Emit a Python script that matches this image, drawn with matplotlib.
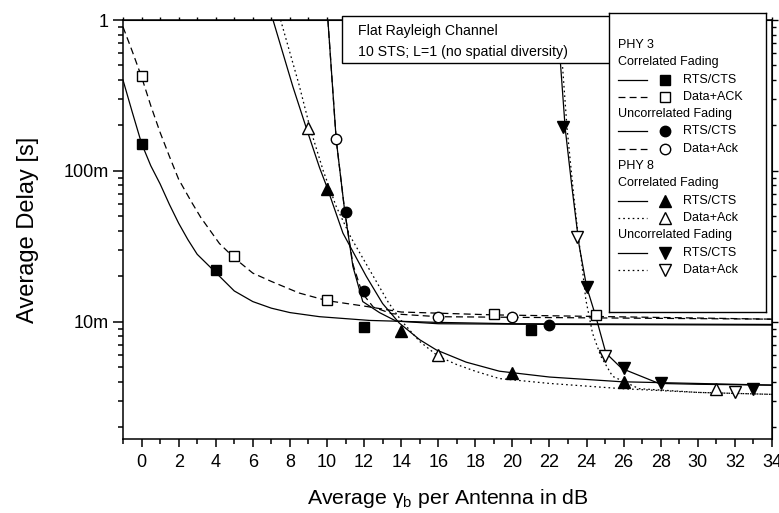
import matplotlib
matplotlib.use("Agg")
import matplotlib.pyplot as plt
from matplotlib.lines import Line2D
from matplotlib.patches import Rectangle
from matplotlib.ticker import FixedLocator, LogLocator, MultipleLocator, NullFormatter

plt.rcParams["font.family"] = ["Liberation Sans", "DejaVu Sans"]
plt.rcParams["lines.scale_dashes"] = False

# ---- simulated points -------------------------------------------------------
# PHY 3
p3_cor_rts_x = [0, 4, 12, 21]
p3_cor_rts_y = [0.150, 0.0219, 0.0092, 0.0088]
p3_cor_ack_x = [0, 5, 10, 19, 24.5]
p3_cor_ack_y = [0.426, 0.0274, 0.0140, 0.0113, 0.0110]
p3_unc_rts_x = [11, 12, 22]
p3_unc_rts_y = [0.0532, 0.0161, 0.0095]
p3_unc_ack_x = [10.5, 16, 20]
p3_unc_ack_y = [0.162, 0.0108, 0.0108]
# PHY 8
p8_cor_rts_x = [10, 14, 20, 26]
p8_cor_rts_y = [0.0757, 0.0087, 0.0046, 0.0040]
p8_cor_ack_x = [9, 16, 31]
p8_cor_ack_y = [0.192, 0.0060, 0.0036]
p8_unc_rts_x = [22.75, 24, 26, 28, 33]
p8_unc_rts_y = [0.194, 0.0171, 0.0049, 0.0039, 0.0036]
p8_unc_ack_x = [23.5, 25, 32]
p8_unc_ack_y = [0.0364, 0.0059, 0.0034]

# ---- analytical curves ------------------------------------------------------
fit_p3_cor_rts_x = [-1, -0.5, 0, 0.5, 1, 1.5, 2, 2.5, 3, 4, 5, 6, 7, 8, 9.6, 12.3, 16, 20, 34]
fit_p3_cor_rts_y = [0.40, 0.245, 0.152, 0.108, 0.082, 0.060, 0.045, 0.035, 0.028, 0.0212,
                    0.0160, 0.0136, 0.0123, 0.0115, 0.0108, 0.0102, 0.0099, 0.0097, 0.0096]
fit_p3_cor_ack_x = [-1, -0.5, 0, 0.5, 1, 1.5, 2, 2.7, 3.2, 4.2, 5, 6, 7, 8.5, 10, 12, 14, 19, 34]
fit_p3_cor_ack_y = [0.90, 0.62, 0.42, 0.27, 0.18, 0.125, 0.088, 0.062, 0.049, 0.033, 0.0265,
                    0.021, 0.0185, 0.0155, 0.0138, 0.0127, 0.0116, 0.0111, 0.0104]
fit_p3_unc_rts_x = [10.05, 10.5, 10.95, 11.4, 11.93, 12.83, 13.73, 16, 22, 34]
fit_p3_unc_rts_y = [1.0, 0.16, 0.055, 0.0232, 0.0136, 0.0115, 0.0101, 0.0097, 0.0096, 0.0095]
fit_p3_unc_ack_x = [10.05, 10.5, 10.95, 11.4, 11.9, 12.5, 13.5, 16, 20, 34]
fit_p3_unc_ack_y = [1.0, 0.16, 0.055, 0.024, 0.0155, 0.0125, 0.0113, 0.0108, 0.0107, 0.0104]
fit_p8_cor_rts_x = [7.09, 8.16, 8.9, 9.6, 10, 10.86, 12.12, 13.0, 13.9, 15, 15.9, 17.5, 19.3, 22, 25.9, 34]
fit_p8_cor_rts_y = [1.0, 0.362, 0.19, 0.105, 0.078, 0.0387, 0.020, 0.0132, 0.0098, 0.0076,
                    0.0065, 0.0054, 0.0047, 0.0043, 0.0040, 0.0038]
fit_p8_cor_ack_x = [7.5, 8.5, 9.1, 9.8, 10.5, 11.3, 12.5, 13.3, 14, 15, 16, 17, 18, 19.3, 22, 25.9, 30, 34]
fit_p8_cor_ack_y = [1.0, 0.37, 0.19, 0.10, 0.058, 0.036, 0.020, 0.0135, 0.0102, 0.0074, 0.0059,
                    0.0052, 0.0047, 0.0042, 0.0039, 0.0036, 0.0034, 0.0033]
fit_p8_unc_rts_x = [22.4, 22.6, 22.85, 23.2, 23.6, 24.0, 24.5, 25.04, 25.9, 27.9, 30, 34]
fit_p8_unc_rts_y = [1.0, 0.50, 0.19, 0.08, 0.032, 0.0171, 0.0108, 0.0062, 0.0049, 0.0039, 0.00385, 0.0038]
fit_p8_unc_ack_x = [22.5, 22.7, 22.95, 23.3, 23.55, 23.7, 23.96, 24.32, 24.77, 25.4, 26.83, 30, 34]
fit_p8_unc_ack_y = [1.0, 0.50, 0.19, 0.07, 0.037, 0.027, 0.014, 0.0084, 0.0059, 0.00435,
                    0.0036, 0.0034, 0.0033]

y_ticks = [0.01, 0.1, 1]
y_tick_labels = ["10m", "100m", "1"]

LW = 0.9
DASHED = (0, (5, 3))
DOTTED = (0, (1.2, 2.2))

W, H = 779, 513
fig = plt.figure(figsize=(W / 100, H / 100), dpi=100)
ax = fig.add_axes([123 / W, 74 / H, 649 / W, 419 / H])

# curves
curves = [
    (fit_p3_cor_rts_x, fit_p3_cor_rts_y, "-"),
    (fit_p3_cor_ack_x, fit_p3_cor_ack_y, DASHED),
    (fit_p3_unc_rts_x, fit_p3_unc_rts_y, "-"),
    (fit_p3_unc_ack_x, fit_p3_unc_ack_y, DASHED),
    (fit_p8_cor_rts_x, fit_p8_cor_rts_y, "-"),
    (fit_p8_cor_ack_x, fit_p8_cor_ack_y, DOTTED),
    (fit_p8_unc_rts_x, fit_p8_unc_rts_y, "-"),
    (fit_p8_unc_ack_x, fit_p8_unc_ack_y, DOTTED),
]
for cx, cy, ls in curves:
    ax.plot(cx, cy, color="black", lw=LW, linestyle=ls, zorder=2)

# markers
points = [
    (p3_cor_rts_x, p3_cor_rts_y, "s", "black", 7),
    (p3_cor_ack_x, p3_cor_ack_y, "s", "white", 7),
    (p3_unc_rts_x, p3_unc_rts_y, "o", "black", 7.5),
    (p3_unc_ack_x, p3_unc_ack_y, "o", "white", 7.5),
    (p8_cor_rts_x, p8_cor_rts_y, "^", "black", 8),
    (p8_cor_ack_x, p8_cor_ack_y, "^", "white", 8),
    (p8_unc_rts_x, p8_unc_rts_y, "v", "black", 8),
    (p8_unc_ack_x, p8_unc_ack_y, "v", "white", 8),
]
for px, py, mk, fc, ms in points:
    ax.plot(px, py, linestyle="none", marker=mk, ms=ms, mfc=fc, mec="black",
            mew=1.0, zorder=3)

# axes
ax.set_xlim(-1, 34)
ax.set_yscale("log")
ax.set_ylim(1.67e-3, 1)
ax.xaxis.set_major_locator(MultipleLocator(2))
ax.xaxis.set_minor_locator(MultipleLocator(1))
ax.yaxis.set_major_locator(FixedLocator(y_ticks))
ax.set_yticklabels(y_tick_labels)
ax.yaxis.set_minor_locator(LogLocator(base=10, subs=range(2, 10)))
ax.yaxis.set_minor_formatter(NullFormatter())
for sp in ax.spines.values():
    sp.set_linewidth(1.1)
ax.tick_params(axis="x", which="major", direction="out", length=5.5, width=1.1,
               labelsize=13, pad=5)
ax.tick_params(axis="x", which="minor", direction="out", length=3.3, width=1.1)
ax.tick_params(axis="y", which="major", direction="out", length=7, width=1.1,
               labelsize=13, pad=3)
ax.tick_params(axis="y", which="minor", direction="out", length=3.5, width=1.1)

top = ax.secondary_xaxis("top")
top.xaxis.set_major_locator(MultipleLocator(2))
top.xaxis.set_minor_locator(MultipleLocator(1))
top.tick_params(which="both", direction="out", length=2, width=1.0, labeltop=False)
right = ax.secondary_yaxis("right")
right.yaxis.set_major_locator(FixedLocator(y_ticks))
right.yaxis.set_minor_locator(LogLocator(base=10, subs=range(2, 10)))
right.yaxis.set_minor_formatter(NullFormatter())
right.tick_params(which="major", direction="out", length=4, width=1.0, labelright=False)
right.tick_params(which="minor", direction="out", length=3, width=1.0)

ax.set_xlabel(r"Average $\mathregular{\gamma_b}$ per Antenna in dB", fontsize=15.3, labelpad=12)
ax.set_ylabel("Average Delay [s]", fontsize=17, labelpad=18)

# channel description box
box = Rectangle((341.7 / W, 1 - 63.3 / H), (625 - 341.7) / W, (63.3 - 16) / H,
                transform=fig.transFigure, facecolor="white", edgecolor="black",
                lw=1.0, zorder=3)
fig.add_artist(box)
fig.text(358 / W, 1 - 30.7 / H, "Flat Rayleigh Channel", fontsize=10.2, va="center",
         zorder=4)
fig.text(358 / W, 1 - 51.7 / H, "10 STS; L=1 (no spatial diversity)", fontsize=10.2,
         va="center", zorder=4)

# legend panel
lax = fig.add_axes([609 / W, 1 - 312 / H, (766 - 609) / W, (312 - 12.7) / H])
lax.set_zorder(5)
lax.set_xlim(609, 766)
lax.set_ylim(312, 12.7)
lax.set_xticks([])
lax.set_yticks([])
for sp in lax.spines.values():
    sp.set_linewidth(1.0)

legend_rows = [
    ("PHY 3", None),
    ("Correlated Fading", None),
    ("RTS/CTS", ("-", "s", "black", 7)),
    ("Data+ACK", (DASHED, "s", "white", 7)),
    ("Uncorrelated Fading", None),
    ("RTS/CTS", ("-", "o", "black", 7.5)),
    ("Data+Ack", (DASHED, "o", "white", 7.5)),
    ("PHY 8", None),
    ("Correlated Fading", None),
    ("RTS/CTS", ("-", "^", "black", 8)),
    ("Data+Ack", (DOTTED, "^", "white", 8)),
    ("Uncorrelated Fading", None),
    ("RTS/CTS", ("-", "v", "black", 8)),
    ("Data+Ack", (DOTTED, "v", "white", 8)),
]
row_y = 45
for label, style in legend_rows:
    if style is None:
        lax.text(618, row_y, label, fontsize=9, va="center", ha="left")
    else:
        ls, mk, fc, ms = style
        lax.add_line(Line2D([618, 647], [row_y, row_y], color="black", lw=LW, linestyle=ls))
        lax.plot([665], [row_y], marker=mk, ms=ms, mfc=fc, mec="black", mew=1.0,
                 linestyle="none")
        lax.text(683, row_y, label, fontsize=9, va="center", ha="left")
    row_y += 17.3

fig.savefig("out.png", dpi=100)
